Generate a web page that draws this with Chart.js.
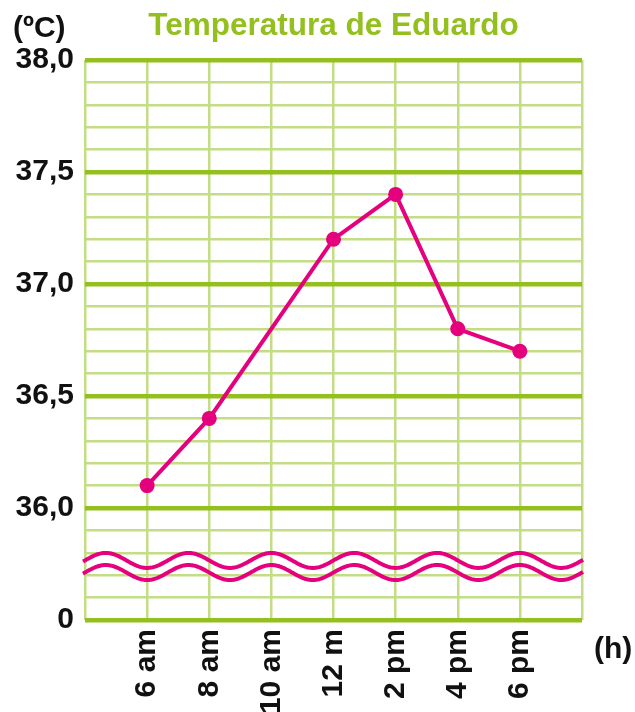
<!DOCTYPE html>
<html>
<head>
<meta charset="utf-8">
<script src="https://cdn.jsdelivr.net/npm/chart.js@4/dist/chart.umd.min.js"></script>
<style>
  html, body { margin: 0; padding: 0; background: #ffffff; }
  #wrap { width: 635px; height: 712px; position: relative; }
</style>
</head>
<body>
<div id="wrap"><canvas id="c" width="635" height="712"></canvas></div>
<script>
// ---- data ----
const categories = ['', '6 am', '8 am', '10 am', '12 m', '2 pm', '4 pm', '6 pm', ''];
const temperatures = [null, 36.1, 36.4, null, 37.2, 37.4, 36.8, 36.7, null];
const yTickValues = [35.5, 36.0, 36.5, 37.0, 37.5, 38.0];
const yTickLabels = ['0', '36,0', '36,5', '37,0', '37,5', '38,0'];
const titleText = 'Temperatura de Eduardo';
const yUnit = '(ºC)';
const xUnit = '(h)';

const PINK = '#e5007d';
const GREEN_DARK = '#93c01f';
const GREEN_LIGHT = '#c3dd84';
const FONT = "'Liberation Sans', Arial, sans-serif";

function isMajor(v) {
  return yTickValues.some(t => Math.abs(t - v) < 1e-6);
}

const extras = {
  id: 'extras',
  beforeDatasetsDraw(chart) {
    const ctx = chart.ctx;
    const xs = chart.scales.x, ys = chart.scales.y;
    const a = chart.chartArea;
    const spacing = xs.getPixelForValue(2) - xs.getPixelForValue(1);
    const period = spacing * 4 / 3;
    const amp = 7.5;
    const x0 = xs.getPixelForValue(1);
    const centers = [ys.getPixelForValue(35.766), ys.getPixelForValue(35.712)];
    ctx.save();
    ctx.strokeStyle = PINK;
    ctx.lineWidth = 4;
    ctx.lineCap = 'butt';
    centers.forEach(cy => {
      ctx.beginPath();
      for (let x = a.left - 2; x <= a.right + 1; x += 1) {
        const y = cy + amp * Math.cos(2 * Math.PI * (x - x0) / period);
        if (x === a.left - 2) ctx.moveTo(x, y); else ctx.lineTo(x, y);
      }
      ctx.stroke();
    });
    ctx.restore();
  },
  afterDraw(chart) {
    const ctx = chart.ctx;
    const a = chart.chartArea;
    ctx.save();
    ctx.fillStyle = '#111111';
    ctx.font = 'bold 30px ' + FONT;
    ctx.textBaseline = 'middle';
    ctx.textAlign = 'left';
    ctx.fillText(yUnit, 13, 29);
    ctx.fillText(xUnit, a.right + 12, 650);
    ctx.restore();
  }
};

new Chart(document.getElementById('c'), {
  type: 'line',
  data: {
    labels: categories,
    datasets: [{
      data: temperatures,
      borderColor: PINK,
      backgroundColor: PINK,
      borderWidth: 4,
      pointRadius: 7.5,
      pointHoverRadius: 7.5,
      pointBackgroundColor: PINK,
      pointBorderWidth: 0,
      spanGaps: true,
      tension: 0
    }]
  },
  plugins: [extras],
  options: {
    responsive: false,
    animation: false,
    events: [],
    layout: { padding: { top: 0, right: 53, bottom: 0, left: 0 } },
    plugins: {
      legend: { display: false },
      tooltip: { enabled: false },
      title: {
        display: true,
        text: titleText,
        color: GREEN_DARK,
        fullSize: false,
        font: { family: FONT, size: 31.5, weight: 'bold', lineHeight: 1.2 },
        padding: { top: 7.5, bottom: 14.7 }
      }
    },
    scales: {
      x: {
        type: 'category',
        offset: false,
        border: { display: false },
        grid: { color: GREEN_LIGHT, lineWidth: 2.5, drawTicks: false },
        ticks: {
          autoSkip: false,
          minRotation: 90,
          maxRotation: 90,
          padding: 9,
          color: '#111111',
          font: { family: FONT, size: 30, weight: 'bold' }
        },
        afterFit(s) { s.height = 92; }
      },
      y: {
        min: 35.5,
        max: 38.0,
        border: { display: false },
        grid: {
          drawTicks: false,
          color: ctx => isMajor(ctx.tick.value) ? GREEN_DARK : GREEN_LIGHT,
          lineWidth: ctx => isMajor(ctx.tick.value) ? 4.5 : 2.5
        },
        ticks: {
          stepSize: 0.1,
          autoSkip: false,
          padding: 11,
          color: '#111111',
          font: { family: FONT, size: 30, weight: 'bold' },
          callback: v => {
            const i = yTickValues.findIndex(t => Math.abs(t - v) < 1e-6);
            return i >= 0 ? yTickLabels[i] : '';
          }
        },
        afterFit(s) { s.width = 85; }
      }
    }
  }
});
</script>
</body>
</html>
